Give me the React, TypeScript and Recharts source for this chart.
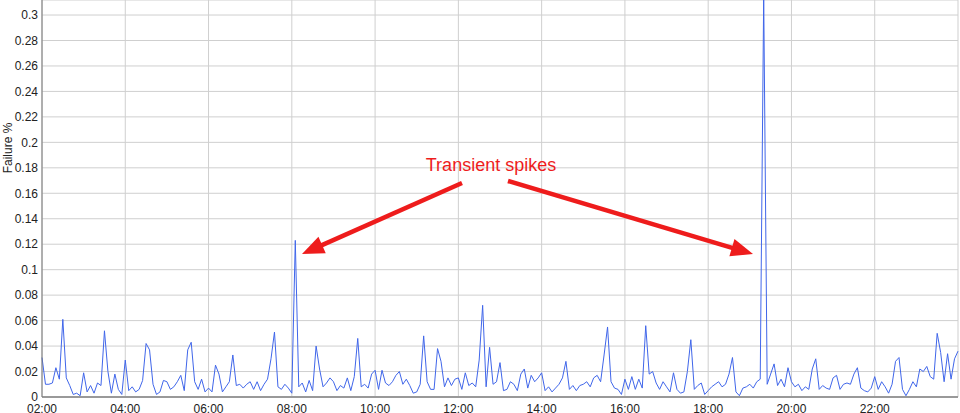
import { LineChart, Line, XAxis, YAxis, CartesianGrid } from 'recharts'

// failure % sampled every 5 minutes, one array per hour (02:00 .. 24:00)
const h02 = [0.031, 0.010, 0.010, 0.011, 0.023, 0.014, 0.061, 0.015, 0.009, 0.002, 0.003, 0.001]
const h03 = [0.019, 0.004, 0.009, 0.003, 0.011, 0.009, 0.052, 0.020, 0.003, 0.018, 0.006, 0.002]
const h04 = [0.029, 0.005, 0.008, 0.004, 0.006, 0.013, 0.042, 0.037, 0.010, 0.002, 0.004, 0.013]
const h05 = [0.012, 0.006, 0.008, 0.012, 0.017, 0.005, 0.037, 0.043, 0.012, 0.006, 0.014, 0.004]
const h06 = [0.007, 0.004, 0.025, 0.018, 0.004, 0.008, 0.012, 0.033, 0.009, 0.010, 0.007, 0.010]
const h07 = [0.012, 0.006, 0.012, 0.005, 0.010, 0.014, 0.030, 0.051, 0.008, 0.006, 0.010, 0.007]
const h08 = [0.003, 0.123, 0.008, 0.011, 0.004, 0.013, 0.005, 0.040, 0.022, 0.008, 0.011, 0.015]
const h09 = [0.012, 0.005, 0.009, 0.007, 0.015, 0.005, 0.016, 0.046, 0.008, 0.010, 0.007, 0.018]
const h10 = [0.021, 0.006, 0.021, 0.011, 0.009, 0.012, 0.017, 0.020, 0.010, 0.014, 0.009, 0.003]
const h11 = [0.004, 0.010, 0.048, 0.012, 0.006, 0.006, 0.038, 0.028, 0.008, 0.015, 0.009, 0.014]
const h12 = [0.015, 0.006, 0.019, 0.009, 0.011, 0.008, 0.029, 0.072, 0.008, 0.039, 0.010, 0.012]
const h13 = [0.027, 0.005, 0.006, 0.012, 0.010, 0.005, 0.018, 0.022, 0.007, 0.017, 0.012, 0.015]
const h14 = [0.019, 0.005, 0.008, 0.004, 0.007, 0.010, 0.015, 0.028, 0.006, 0.009, 0.005, 0.009]
const h15 = [0.010, 0.012, 0.008, 0.015, 0.017, 0.012, 0.033, 0.055, 0.012, 0.007, 0.006, 0.002]
const h16 = [0.014, 0.006, 0.016, 0.006, 0.014, 0.007, 0.056, 0.018, 0.020, 0.011, 0.006, 0.012]
const h17 = [0.008, 0.004, 0.019, 0.006, 0.003, 0.004, 0.020, 0.045, 0.006, 0.009, 0.011, 0.002]
const h18 = [0.005, 0.008, 0.010, 0.012, 0.008, 0.010, 0.018, 0.031, 0.004, 0.001, 0.007, 0.008]
const h19 = [0.010, 0.007, 0.012, 0.014, 0.315, 0.010, 0.018, 0.026, 0.009, 0.014, 0.008, 0.023]
const h20 = [0.012, 0.008, 0.010, 0.005, 0.008, 0.006, 0.022, 0.030, 0.006, 0.009, 0.007, 0.006]
const h21 = [0.015, 0.017, 0.006, 0.010, 0.011, 0.010, 0.018, 0.023, 0.007, 0.005, 0.004, 0.007]
const h22 = [0.016, 0.006, 0.012, 0.008, 0.003, 0.010, 0.028, 0.031, 0.006, 0.001, 0.006, 0.012]
const h23 = [0.008, 0.022, 0.020, 0.024, 0.016, 0.014, 0.050, 0.035, 0.012, 0.034, 0.014, 0.030, 0.036]

const START_MIN = 120
const STEP_MIN = 5

const xTicks = [120, 240, 360, 480, 600, 720, 840, 960, 1080, 1200, 1320]
const xTickLabels = ['02:00', '04:00', '06:00', '08:00', '10:00', '12:00', '14:00', '16:00', '18:00', '20:00', '22:00']
const yTicks = [0, 0.02, 0.04, 0.06, 0.08, 0.1, 0.12, 0.14, 0.16, 0.18, 0.2, 0.22, 0.24, 0.26, 0.28, 0.3]

const series = [
  ...h02, ...h03, ...h04, ...h05, ...h06, ...h07, ...h08, ...h09, ...h10, ...h11, ...h12,
  ...h13, ...h14, ...h15, ...h16, ...h17, ...h18, ...h19, ...h20, ...h21, ...h22, ...h23,
]
const data = series.map((v, i) => ({ t: START_MIN + i * STEP_MIN, v }))

const RED = '#ee1c1c'
const font = '"Liberation Sans", Arial, sans-serif'

function Arrow({ x1, y1, x2, y2 }: { x1: number; y1: number; x2: number; y2: number }) {
  const len = Math.hypot(x2 - x1, y2 - y1)
  const ux = (x2 - x1) / len
  const uy = (y2 - y1) / len
  const head = 22
  const half = 9
  const bx = x2 - ux * head
  const by = y2 - uy * head
  const pts = `${x2},${y2} ${bx - uy * half},${by + ux * half} ${bx + uy * half},${by - ux * half}`
  return (
    <g>
      <line x1={x1} y1={y1} x2={bx + ux * 2} y2={by + uy * 2} stroke={RED} strokeWidth={4.5} />
      <polygon points={pts} fill={RED} />
    </g>
  )
}

export default function App() {
  return (
    <div style={{ position: 'absolute', left: 0, top: 0, width: 960, height: 413, background: '#fff' }}>
      <LineChart width={960} height={413} data={data} margin={{ top: 0, right: 2, bottom: 0, left: 0 }}>
        <CartesianGrid stroke="#cfcfcf" strokeWidth={1} />
        <XAxis
          dataKey="t"
          type="number"
          domain={[120, 1440]}
          ticks={xTicks}
          tickFormatter={(t: number) => xTickLabels[xTicks.indexOf(t)] ?? ''}
          height={16}
          tickLine={false}
          tickSize={0}
          tickMargin={7}
          stroke="#999"
          strokeWidth={2}
          tick={{ fill: '#222', fontSize: 12, fontFamily: font }}
        />
        <YAxis
          type="number"
          domain={[0, 0.3118]}
          ticks={yTicks}
          allowDataOverflow
          width={42}
          tickLine={false}
          tickSize={0}
          tickMargin={4}
          stroke="#777"
          tickFormatter={(v: number) => String(Number(v.toFixed(2)))}
          tick={{ fill: '#222', fontSize: 12, fontFamily: font }}
        />
        <Line type="linear" dataKey="v" stroke="#4066ea" strokeWidth={1} dot={false} isAnimationActive={false} />
      </LineChart>
      <svg width={960} height={413} style={{ position: 'absolute', left: 0, top: 0, pointerEvents: 'none' }}>
        <text x={12} y={148} transform="rotate(-90 12 148)" textAnchor="middle" fontSize={12} fontFamily={font} fill="#222">
          Failure %
        </text>
        <text x={491} y={171} textAnchor="middle" fontSize={18} fontFamily={font} fill={RED}>
          Transient spikes
        </text>
        <Arrow x1={462} y1={183} x2={302} y2={254} />
        <Arrow x1={508} y1={181} x2={753} y2={254} />
      </svg>
    </div>
  )
}
